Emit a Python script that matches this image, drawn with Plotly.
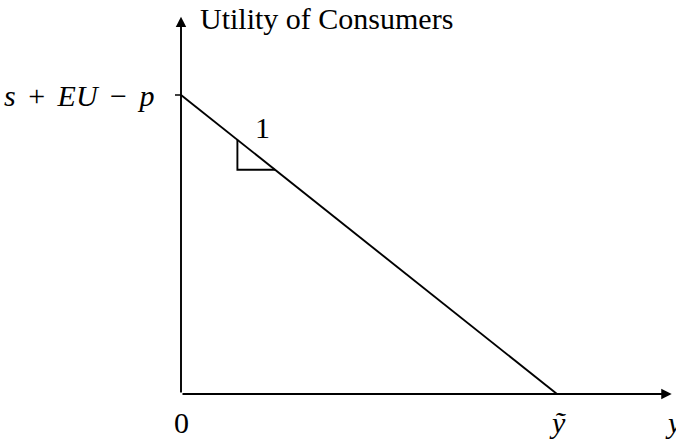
import plotly.graph_objects as go

# utility line: from intercept on y-axis down to y-tilde on the x-axis
line_x = [0.0, 1.0]
line_y = [1.0, 0.0]
# slope triangle
tri_x = [0.15, 0.15, 0.25]
tri_y = [0.85, 0.75, 0.75]
# axis extents (ends of the arrows)
x_axis_end = 1.305
y_axis_end = 1.262
y_label = "Utility of Consumers"
x_label = "y"
sp = " \u2006"
intercept_label = "<i>s</i>" + sp + "+" + sp + "<i>EU</i>" + sp + "−" + sp + "<i>p</i>"
ytilde_label = "<i>ỹ</i>"

FONT = "Liberation Serif"
BLK = "black"

fig = go.Figure()
fig.add_trace(go.Scatter(x=line_x, y=line_y, mode="lines",
                         line=dict(color=BLK, width=1.9), hoverinfo="skip"))
fig.add_trace(go.Scatter(x=tri_x, y=tri_y, mode="lines",
                         line=dict(color=BLK, width=1.9), hoverinfo="skip"))
# small tick at the intercept
fig.add_trace(go.Scatter(x=[-0.016, 0], y=[line_y[0], line_y[0]], mode="lines",
                         line=dict(color=BLK, width=1.5), hoverinfo="skip"))

# axes with arrowheads
for x0, y0, x1, y1 in [(0, 0, x_axis_end, 0), (0, 0, 0, y_axis_end)]:
    fig.add_annotation(x=x1, y=y1, ax=x0, ay=y0, xref="x", yref="y",
                       axref="x", ayref="y", showarrow=True, text="",
                       arrowhead=2, arrowsize=1.1, arrowwidth=1.9, arrowcolor=BLK,
                       standoff=0, startstandoff=0)

txt = dict(family=FONT, size=30, color=BLK)
fig.add_annotation(x=0.045, y=1.257, text=y_label, showarrow=False,
                   xanchor="left", yanchor="middle", font=txt)
fig.add_annotation(x=-0.065, y=line_y[0], text=intercept_label, showarrow=False,
                   xanchor="right", yanchor="middle", font=txt)
fig.add_annotation(x=0.218, y=0.89, text="1", showarrow=False, font=txt)
fig.add_annotation(x=0, y=-0.094, text="0", showarrow=False, font=txt)
fig.add_annotation(x=line_x[1], y=-0.094, text=ytilde_label, showarrow=False, font=txt)
fig.add_annotation(x=1.282, y=-0.094, text="<i>%s</i>" % x_label, showarrow=False,
                   xanchor="left", font=txt)

fig.update_xaxes(range=[-0.4814, 1.3165], visible=False)
fig.update_yaxes(range=[-0.1538, 1.3177], visible=False)
fig.update_layout(width=676, height=440, showlegend=False,
                  margin=dict(l=0, r=0, t=0, b=0, autoexpand=False),
                  plot_bgcolor="white", paper_bgcolor="white")
fig.write_html("out.html", config={"displayModeBar": False},
               post_script="document.body.style.margin='0';")
